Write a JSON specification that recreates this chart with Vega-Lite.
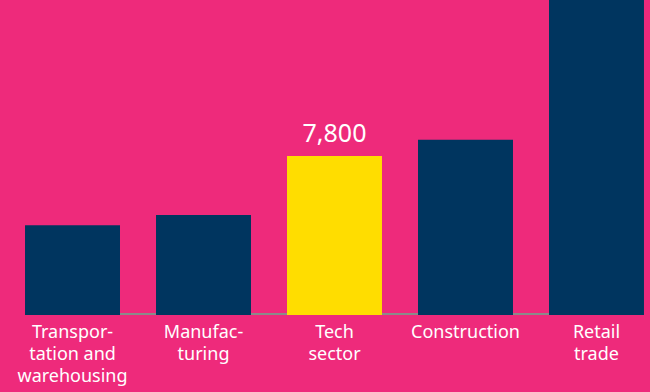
{
  "$schema": "https://vega.github.io/schema/vega-lite/v6.json",
  "width": 650,
  "height": 315,
  "padding": {"left": 0, "right": 0, "top": 0, "bottom": 77},
  "autosize": {"type": "none"},
  "background": "#EE2A7B",
  "config": {"view": {"stroke": null}, "font": "Noto Sans"},
  "datasets": {
    "bars": [
      {"sector": "Transpor-|tation and|warehousing", "jobs": 4400, "highlight": "no", "label": ""},
      {"sector": "Manufac-|turing", "jobs": 4900, "highlight": "no", "label": ""},
      {"sector": "Tech|sector", "jobs": 7800, "highlight": "yes", "label": "7,800"},
      {"sector": "Construction", "jobs": 8600, "highlight": "no", "label": ""},
      {"sector": "Retail|trade", "jobs": 16000, "highlight": "no", "label": ""}
    ],
    "base": [{"a": "Transpor-|tation and|warehousing", "b": "Retail|trade", "v": 0}]
  },
  "layer": [
    {
      "data": {"name": "base"},
      "mark": {"type": "rule", "color": "#8A8A8A", "strokeWidth": 2, "yOffset": -1},
      "encoding": {
        "x": {"field": "a", "type": "nominal", "sort": ["Transpor-|tation and|warehousing", "Manufac-|turing", "Tech|sector", "Construction", "Retail|trade"],
          "scale": {"domain": ["Transpor-|tation and|warehousing", "Manufac-|turing", "Tech|sector", "Construction", "Retail|trade"], "paddingInner": 0.275, "paddingOuter": 0.1185, "align": 0.806},
          "axis": {"title": null, "domain": false, "ticks": false, "labelAngle": 0,
            "labelExpr": "split(datum.label, '|')", "labelColor": "#FFFFFF", "labelFontSize": 18,
            "labelLineHeight": 22, "labelPadding": 8, "labelFont": "Noto Sans", "labelBaseline": "top"}},
        "x2": {"field": "b"},
        "y": {"field": "v", "type": "quantitative", "scale": {"domain": [0, 15450], "nice": false, "zero": true}, "axis": null}
      }
    },
    {
      "data": {"name": "bars"},
      "mark": {"type": "bar", "clip": true},
      "encoding": {
        "x": {"field": "sector", "type": "nominal", "sort": ["Transpor-|tation and|warehousing", "Manufac-|turing", "Tech|sector", "Construction", "Retail|trade"]},
        "y": {"field": "jobs", "type": "quantitative"},
        "color": {"field": "highlight", "type": "nominal", "scale": {"domain": ["no", "yes"], "range": ["#00355F", "#FFDD00"]}, "legend": null}
      }
    },
    {
      "data": {"name": "bars"},
      "mark": {"type": "text", "color": "#FFFFFF", "fontSize": 25, "dy": -9, "baseline": "bottom", "font": "Noto Sans"},
      "encoding": {
        "x": {"field": "sector", "type": "nominal", "sort": ["Transpor-|tation and|warehousing", "Manufac-|turing", "Tech|sector", "Construction", "Retail|trade"]},
        "y": {"field": "jobs", "type": "quantitative"},
        "text": {"field": "label"}
      }
    }
  ]
}
